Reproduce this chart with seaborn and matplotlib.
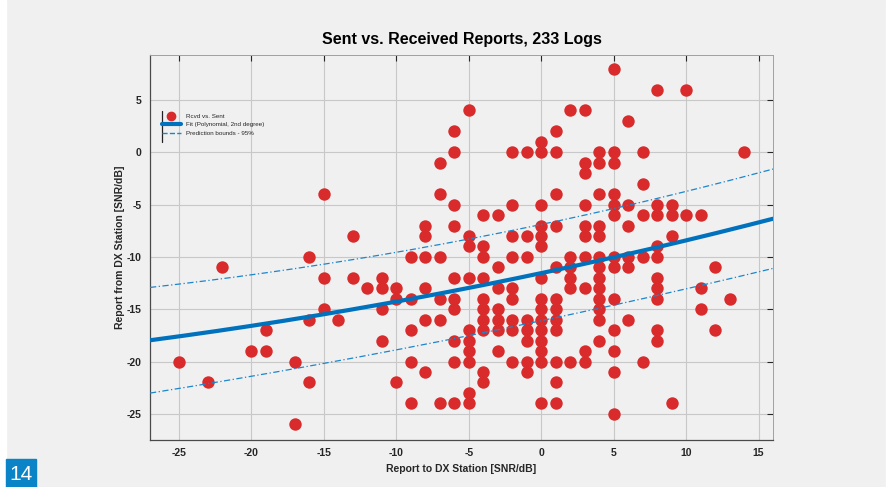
import numpy as np
import pandas as pd
import seaborn as sns
from matplotlib import pyplot as plt
from matplotlib.lines import Line2D
from matplotlib.patches import Rectangle

# report sent to DX station (x) and report received back (y), one entry per visible dot
sent = [
    -25, -23, -22, -20, -19, -19, -17, -17,
    -16, -16, -16, -15, -15, -15, -14, -13, -13, -12,
    -11, -11, -11, -11, -10, -10, -10,
    -9, -9, -9, -9, -9,
    -8, -8, -8, -8, -8, -8,
    -7, -7, -7, -7, -7, -7,
    -6, -6, -6, -6, -6, -6, -6, -6, -6, -6,
    -5, -5, -5, -5, -5, -5, -5, -5, -5, -5,
    -4, -4, -4, -4, -4, -4, -4, -4, -4, -4,
    -3, -3, -3, -3, -3, -3, -3,
    -2, -2, -2, -2, -2, -2, -2, -2, -2,
    -1, -1, -1, -1, -1, -1, -1, -1,
    0, 0, 0, 0, 0, 0, 0, 0, 0, 0, 0, 0, 0, 0, 0,
    1, 1, 1, 1, 1, 1, 1, 1, 1, 1, 1, 1,
    2, 2, 2, 2, 2, 2,
    3, 3, 3, 3, 3, 3, 3, 3, 3, 3,
    4, 4, 4, 4, 4, 4, 4, 4, 4, 4, 4, 4, 4,
    5, 5, 5, 5, 5, 5, 5, 5, 5, 5, 5, 5, 5,
    6, 6, 6, 6, 6, 6,
    7, 7, 7, 7, 7,
    8, 8, 8, 8, 8, 8, 8, 8, 8, 8,
    9, 9, 9, 9,
    10, 10, 11, 11, 11, 12, 12, 13, 14,
]
received = [
    -20, -22, -11, -19, -17, -19, -20, -26,
    -10, -16, -22, -4, -12, -15, -16, -8, -12, -13,
    -12, -13, -15, -18, -13, -14, -22,
    -10, -14, -17, -20, -24,
    -7, -8, -10, -13, -16, -21,
    -1, -4, -10, -14, -16, -24,
    2, 0, -5, -7, -12, -14, -15, -18, -20, -24,
    4, -8, -9, -12, -17, -18, -19, -20, -23, -24,
    -6, -9, -10, -12, -14, -15, -16, -17, -21, -22,
    -6, -11, -13, -15, -16, -17, -19,
    0, -5, -8, -10, -13, -14, -16, -17, -20,
    0, -8, -10, -16, -17, -18, -20, -21,
    1, 0, -5, -7, -8, -9, -12, -14, -15, -16, -17, -18, -19, -20, -24,
    2, 0, -4, -7, -11, -14, -15, -16, -17, -20, -22, -24,
    4, -10, -11, -12, -13, -20,
    4, -1, -2, -5, -7, -8, -10, -13, -19, -20,
    0, -1, -4, -7, -8, -10, -11, -12, -13, -14, -15, -16, -18,
    8, 0, -1, -4, -5, -6, -10, -11, -14, -17, -19, -21, -25,
    3, -5, -7, -10, -11, -16,
    0, -3, -6, -10, -20,
    6, -5, -6, -9, -10, -12, -13, -14, -17, -18,
    -5, -6, -8, -24,
    6, -6, -6, -13, -15, -11, -17, -14, 0,
]

# quadratic fit and 95% prediction bounds, coefficients (a, b, c)
fit_coef = [0.00203, 0.2925, -11.55]
upper_coef = [0.00252, 0.2909, -6.9]
lower_coef = [0.00131, 0.2916, -16.1]

x_ticks = [-25, -20, -15, -10, -5, 0, 5, 10, 15]
y_ticks = [-25, -20, -15, -10, -5, 0, 5]

RED = "#d92b2b"
BLUE = "#0072bd"
BG = "#f0f0f0"
INK = "#262626"

sns.set_theme(style="whitegrid")
plt.rcParams["font.family"] = ["Liberation Sans", "DejaVu Sans"]
plt.rcParams["axes.unicode_minus"] = False

fig = plt.figure(figsize=(8.94, 4.87), dpi=100, facecolor=BG)

# white page margins left and right of the grey figure panel
for x0, w in [(0, 6), (886, 8)]:
    fig.patches.append(Rectangle((x0 / 894, 0), w / 894, 1,
                                 transform=fig.transFigure, color="white", zorder=0))

ax = fig.add_axes([150 / 894, 47 / 487, 623 / 894, 385 / 487])
ax.set_facecolor(BG)

points = pd.DataFrame({"sent": sent, "received": received})
sns.scatterplot(
    data=points, x="sent", y="received", ax=ax,
    color=RED, s=80, linewidth=0, zorder=3
)

xs = np.linspace(-27, 16, 300)
curves = pd.DataFrame({
    "x": xs,
    "fit": np.polyval(fit_coef, xs),
    "upper": np.polyval(upper_coef, xs),
    "lower": np.polyval(lower_coef, xs),
})
sns.lineplot(data=curves, x="x", y="fit", ax=ax, color=BLUE, lw=3.0, zorder=4)
for col in ["upper", "lower"]:
    sns.lineplot(
        data=curves, x="x", y=col, ax=ax, color="#1c86cc", lw=0.9,
        linestyle=(0, (5, 2, 1, 2)), zorder=4
    )

ax.set_xlim(-27, 16)
ax.set_ylim(-27.5, 9.3)
ax.set_xticks(x_ticks)
ax.set_yticks(y_ticks)
ax.grid(True, color="#c8c8c8", lw=0.8)
ax.set_axisbelow(True)
for side in ["left", "bottom"]:
    ax.spines[side].set_color("#4a4a4a")
    ax.spines[side].set_linewidth(0.9)
for side in ["top", "right"]:
    ax.spines[side].set_color("#a0a0a0")
    ax.spines[side].set_linewidth(0.7)
ax.tick_params(
    direction="in", length=4, width=0.8, color=INK,
    top=True, right=True, labelsize=7.5, labelcolor=INK, pad=6
)
for lab in ax.get_xticklabels() + ax.get_yticklabels():
    lab.set_fontweight("bold")

ax.set_title("Sent vs. Received Reports, 233 Logs", fontsize=11.5,
             fontweight="bold", color="black", pad=8)
ax.set_xlabel("Report to DX Station [SNR/dB]", fontsize=7.5,
              fontweight="bold", color=INK, labelpad=4)
ax.set_ylabel("Report from DX Station [SNR/dB]", fontsize=7.5,
              fontweight="bold", color=INK, labelpad=1)

handles = [
    Line2D([], [], marker="o", color=RED, linestyle="none", markersize=6),
    Line2D([], [], color=BLUE, lw=3),
    Line2D([], [], color="#1c86cc", lw=1, linestyle="--"),
]
labels = ["Rcvd vs. Sent", "Fit (Polynomial, 2nd degree)", "Prediction bounds - 95%"]
leg = ax.legend(handles, labels, loc="upper left", bbox_to_anchor=(0.015, 0.855),
                fontsize=4.5, frameon=False, handlelength=3.0,
                labelspacing=0.5, borderaxespad=0)
for t in leg.get_texts():
    t.set_color(INK)
ax.plot([0.02, 0.02], [0.775, 0.855], transform=ax.transAxes, color="#222222",
        lw=0.9, clip_on=False, zorder=5)

# page number badge
fig.patches.append(Rectangle((6 / 894, 0), 30 / 894, 28 / 487,
                             transform=fig.transFigure, color="#0a84c6"))
fig.text(21 / 894, 13 / 487, "14", color="white", fontsize=15,
         ha="center", va="center", family=["Liberation Sans", "DejaVu Sans"])

fig.savefig("out.png", dpi=100, facecolor=BG)
